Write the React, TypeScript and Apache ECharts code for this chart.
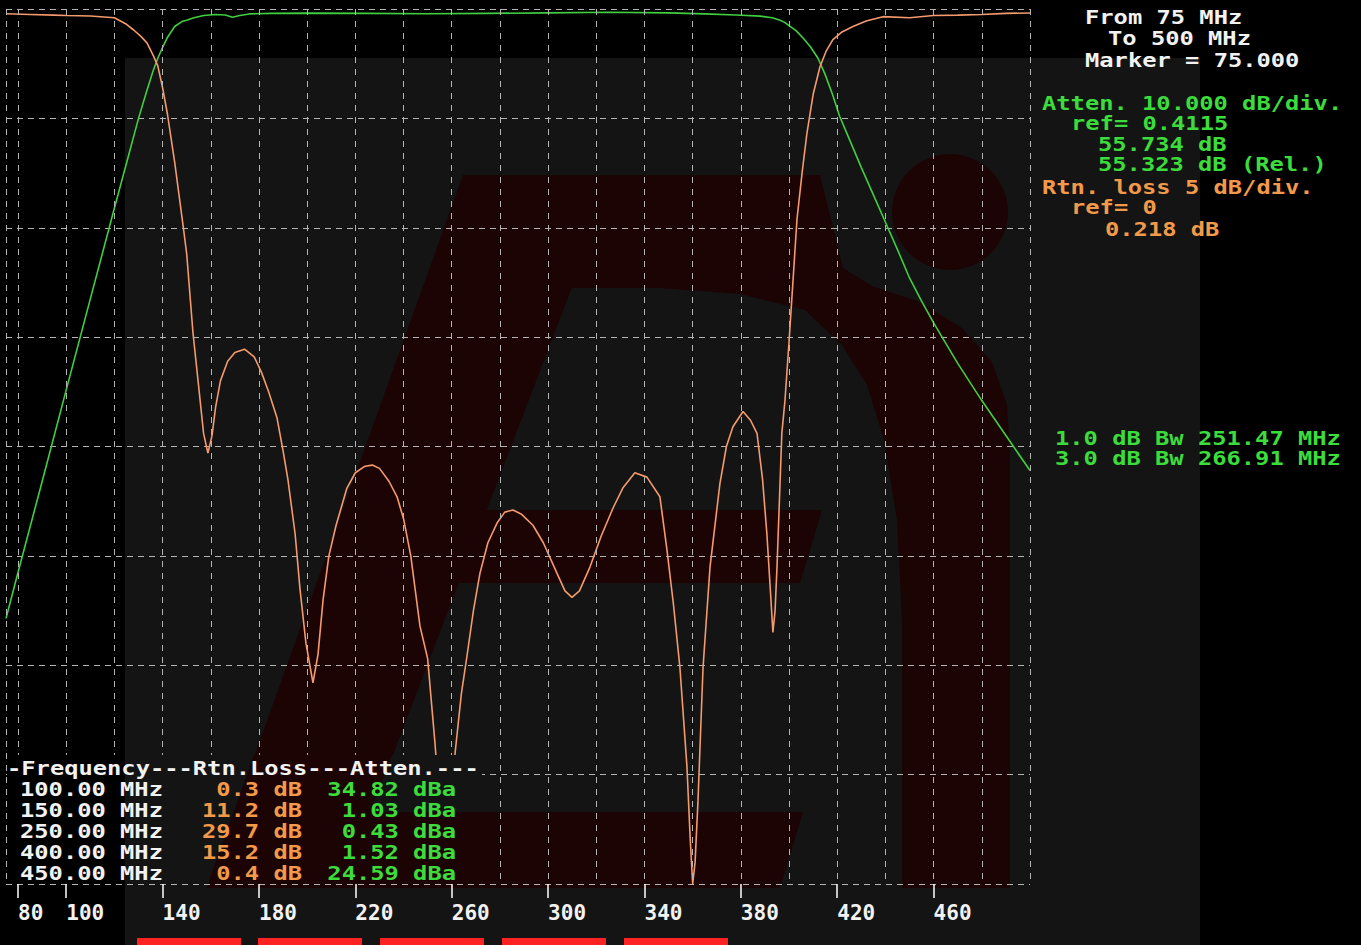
import React, { useEffect, useRef } from "react";
import * as echarts from "echarts";

// ---- data (MHz, dB) ----
const attenuation: [number, number][] = [
  [75, 55.73], [80, 51.5], [90, 43.2], [100, 34.82], [110, 26.5], [120, 18.2], [125, 14.1],
  [130, 10.0], [133, 7.8], [136, 5.7], [138, 4.5], [140, 3.5], [142, 2.6], [145, 1.6],
  [148, 1.15], [150, 1.03], [153, 0.8], [157, 0.6], [162, 0.5], [166, 0.55], [169, 0.75],
  [172, 0.6], [176, 0.45], [185, 0.4], [200, 0.38], [225, 0.4], [250, 0.43], [275, 0.4],
  [300, 0.35], [325, 0.3], [350, 0.35], [365, 0.45], [378, 0.55], [388, 0.65], [393, 0.8],
  [396, 1.0], [398, 1.2], [400, 1.52], [403, 2.0], [406, 2.7], [409, 3.5], [412, 4.5],
  [415, 6.0], [418, 7.8], [421, 9.8], [425, 11.9], [430, 14.5], [435, 17.0], [440, 19.5],
  [445, 22.0], [450, 24.59], [455, 26.7], [460, 28.7], [470, 32.4], [480, 35.8], [490, 39.0],
  [500, 42.2],
];

const returnLoss: [number, number][] = [
  [75, 0.22], [85, 0.25], [95, 0.28], [100, 0.3], [110, 0.32], [120, 0.4], [125, 0.7],
  [128, 0.96], [131, 1.25], [133.5, 1.55], [136, 2.1], [138, 2.6], [140, 3.6], [142, 4.8],
  [145, 7.0], [148.5, 9.9], [150, 11.2], [152.6, 14.8], [155, 17.3], [157, 19.4], [158.8, 20.3],
  [160.5, 19.5], [162, 18.2], [164, 17.0], [167, 16.1], [170, 15.7], [174, 15.55], [178, 15.9],
  [181, 16.6], [184, 17.5], [187.5, 18.7], [190, 20.2], [192, 21.5], [195, 24.0], [197, 26.5],
  [199.5, 29.0], [202.4, 30.8], [204.5, 29.5], [206.6, 27.0], [209, 25.0], [212, 23.6],
  [216.5, 21.9], [220, 21.2], [224, 20.9], [227, 20.85], [230, 21.0], [234, 21.6], [237.3, 22.3],
  [240, 23.3], [243, 25.0], [246.8, 28.2], [250, 29.7], [253, 33.5], [255, 36.5], [257, 39.5],
  [259, 37.5], [261.4, 34.0], [264, 31.3], [266.3, 29.6], [269, 27.5], [271.7, 25.8],
  [275, 24.4], [278.8, 23.5], [282, 23.0], [285.4, 22.9], [289, 23.1], [293.7, 23.6],
  [298, 24.4], [303.7, 25.8], [307, 26.6], [309.9, 26.9], [313, 26.6], [317.4, 25.5],
  [322, 24.1], [327, 22.8], [331, 21.9], [336, 21.2], [341, 21.4], [346.4, 22.3], [349.3, 24.7],
  [352, 27.2], [354.7, 30.1], [357.6, 34.6], [359, 38.0], [360, 40.0], [361, 39.0],
  [362.2, 36.2], [364.3, 30.1], [367.2, 25.5], [371.3, 21.7], [374, 20.0], [376.7, 19.1],
  [380.9, 18.4], [384, 18.8], [386.7, 19.4], [389, 21.5], [390.8, 24.0], [392.2, 26.5],
  [393.3, 28.5], [394.2, 27.5], [395, 25.5], [397, 19.4], [398.3, 17.9], [400, 15.2],
  [403.3, 9.6], [405.5, 7.4], [407.4, 5.7], [410, 3.9], [412.8, 2.65], [415.5, 1.9],
  [418.2, 1.4], [422, 1.05], [426.5, 0.8], [432, 0.55], [439, 0.35], [450, 0.4], [460, 0.3],
  [470, 0.28], [480, 0.25], [490, 0.2], [500, 0.18],
];

const gridFreqs = [75, 80, 100, 120, 140, 160, 180, 200, 220, 240, 260, 280, 300, 320, 340, 360, 380, 400, 420, 440, 460, 480, 500];
const tickFreqs = [80, 100, 140, 180, 220, 260, 300, 340, 380, 420, 460];

const tableFreq = ["100.00 MHz", "150.00 MHz", "250.00 MHz", "400.00 MHz", "450.00 MHz"];
const tableRtn = ["0.3 dB", "11.2 dB", "29.7 dB", "15.2 dB", "0.4 dB"];
const tableAtten = ["34.82 dBa", "1.03 dBa", "0.43 dBa", "1.52 dBa", "24.59 dBa"];

const WHITE = "#f2f2f2";
const GREEN = "#3cdc3c";
const ORANGE = "#f39a4a";
const LINE_GREEN = "#3fcf3f";
const LINE_ORANGE = "#f49a6c";
const GRID = "#b4b4b4";
const BG_GRAY = "#141414";
const LOGO_RED = "#1d0404";
const FONT = '"DejaVu Sans Mono", monospace';

function txt(text: string, x: number, y: number, fill: string, align: string = "left") {
  return {
    type: "text",
    x,
    y,
    scaleX: 1.25,
    z: 100,
    silent: true,
    style: { text, fill, fontSize: 19, fontFamily: FONT, fontWeight: "bold", align, verticalAlign: "middle" },
  };
}

export default function App() {
  const ref = useRef<HTMLDivElement>(null);
  useEffect(() => {
    if (!ref.current) return;
    const chart = echarts.init(ref.current, null, { renderer: "svg" });

    const rowY = [789, 810, 831, 852, 873];
    const graphics: any[] = [
      // background image parts
      { type: "rect", z: -100, silent: true, shape: { x: 125, y: 58, width: 1075, height: 887 }, style: { fill: BG_GRAY } },
      { type: "polygon", z: -99, silent: true, shape: { points: [[463, 175], [615, 175], [342, 888], [207, 888]] }, style: { fill: LOGO_RED } },
      {
        type: "polygon", z: -99, silent: true,
        shape: {
          points: [[463, 175], [820, 175], [843, 268], [872, 286], [920, 302], [962, 328], [992, 362], [1007, 405], [1010, 450],
            [1010, 888], [902, 888], [902, 620], [897, 520], [884, 440], [867, 385], [842, 345], [805, 310], [740, 294], [660, 288], [572, 288]],
        },
        style: { fill: LOGO_RED },
      },
      { type: "polygon", z: -99, silent: true, shape: { points: [[470, 510], [822, 510], [800, 583], [440, 583]] }, style: { fill: LOGO_RED } },
      { type: "polygon", z: -99, silent: true, shape: { points: [[372, 812], [803, 812], [780, 888], [330, 888]] }, style: { fill: LOGO_RED } },
      { type: "circle", z: -99, silent: true, shape: { cx: 950, cy: 212, r: 58 }, style: { fill: LOGO_RED } },
      // table box (hides traces)
      { type: "rect", z: 50, silent: true, shape: { x: 7, y: 755, width: 118, height: 126 }, style: { fill: "#000" } },
      { type: "rect", z: 50, silent: true, shape: { x: 125, y: 755, width: 357, height: 126 }, style: { fill: BG_GRAY } },
      { type: "polygon", z: 51, silent: true, shape: { points: [[254, 755], [392, 755], [370, 812], [482, 812], [482, 881], [209, 881]] }, style: { fill: LOGO_RED } },
      // red buttons
      ...[137, 258, 380, 502, 624].map((x) => ({ type: "rect", z: 100, silent: true, shape: { x, y: 938, width: 104, height: 8 }, style: { fill: "#ff2222" } })),
      // texts right
      txt("From 75 MHz", 1085, 17.5, WHITE),
      txt("To 500 MHz", 1108, 38.5, WHITE),
      txt("Marker = 75.000", 1085, 60, WHITE),
      txt("Atten. 10.000 dB/div.", 1042, 103, GREEN),
      txt("ref= 0.4115", 1071, 123.5, GREEN),
      txt("55.734 dB", 1098, 144, GREEN),
      txt("55.323 dB (Rel.)", 1098, 164.5, GREEN),
      txt("Rtn. loss 5 dB/div.", 1042, 187, ORANGE),
      txt("ref= 0", 1071, 207.5, ORANGE),
      txt("0.218 dB", 1105, 229, ORANGE),
      txt("1.0 dB Bw 251.47 MHz", 1055, 438.5, GREEN),
      txt("3.0 dB Bw 266.91 MHz", 1055, 458.5, GREEN),
      // table
      txt("-Frequency---Rtn.Loss---Atten.---", 7, 768, WHITE),
      ...tableFreq.map((s, i) => txt(s, 20, rowY[i], WHITE)),
      ...tableRtn.map((s, i) => txt(s, 302, rowY[i], ORANGE, "right")),
      ...tableAtten.map((s, i) => txt(s, 456, rowY[i], GREEN, "right")),
    ];

    chart.setOption({
      animation: false,
      backgroundColor: "#000",
      grid: { left: 6, right: 331, top: 9, bottom: 61, containLabel: false },
      xAxis: {
        type: "value",
        min: 75,
        max: 500,
        position: "bottom",
        z: 60,
        axisLine: { show: true, onZero: false, lineStyle: { color: "rgba(0,0,0,0)", width: 1 } },
        splitLine: { show: false },
        axisTick: { show: true, inside: false, customValues: tickFreqs, length: 14, lineStyle: { color: "#ffffff", width: 1.5 } },
        axisLabel: {
          show: true,
          customValues: tickFreqs,
          color: WHITE,
          fontFamily: FONT,
          fontWeight: "bold",
          fontSize: 21,
          align: "left",
          margin: 18,
        },
      },
      yAxis: [
        {
          type: "value",
          min: 0,
          max: 80,
          interval: 10,
          inverse: true,
          axisLine: { show: false },
          axisTick: { show: false },
          axisLabel: { show: false },
          splitLine: { show: true, lineStyle: { color: GRID, width: 1, type: [6, 5] } },
        },
        {
          type: "value",
          min: 0,
          max: 40,
          interval: 5,
          inverse: true,
          show: false,
          splitLine: { show: false },
        },
      ],
      series: [
        {
          type: "line",
          name: "grid",
          data: [],
          z: 1,
          silent: true,
          markLine: {
            silent: true,
            symbol: ["none", "none"],
            label: { show: false },
            lineStyle: { color: GRID, width: 1, type: [6, 6] },
            emphasis: { disabled: true },
            data: gridFreqs.map((f) => ({ xAxis: f })),
          },
        },
        {
          type: "line",
          name: "Atten.",
          yAxisIndex: 0,
          data: attenuation,
          showSymbol: false,
          symbol: "none",
          clip: true,
          z: 3,
          lineStyle: { color: LINE_GREEN, width: 1.6 },
        },
        {
          type: "line",
          name: "Rtn.Loss",
          yAxisIndex: 1,
          data: returnLoss,
          showSymbol: false,
          symbol: "none",
          clip: true,
          z: 3,
          lineStyle: { color: LINE_ORANGE, width: 1.6 },
        },
      ],
      graphic: { elements: graphics },
    });

    return () => chart.dispose();
  }, []);

  return (
    <div
      ref={ref}
      style={{ position: "fixed", left: 0, top: 0, width: 1361, height: 945, background: "#000" }}
    />
  );
}
